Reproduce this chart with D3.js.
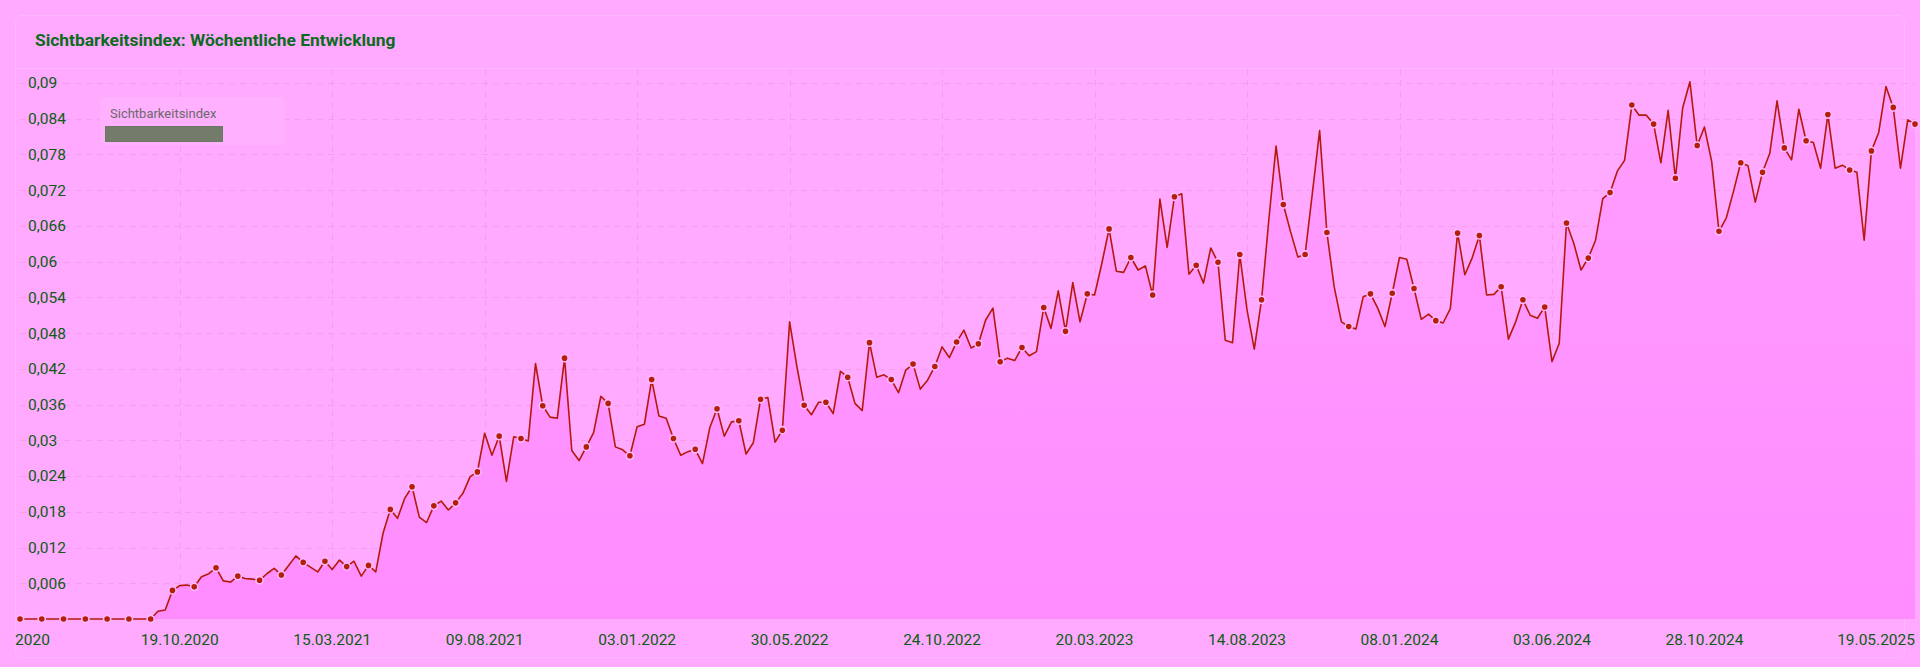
<!DOCTYPE html>
<html lang="de">
<head>
    <meta charset="utf-8">
    <title>Sichtbarkeitsindex</title>
    <script type="text/javascript" src="https://cdn.jsdelivr.net/npm/d3@7/dist/d3.min.js"></script>
    <style>
        html, body { margin: 0; padding: 0; background: #ffa9ff; overflow: hidden; }
        svg { display: block; font-family: Roboto, "Noto Sans", sans-serif; }
    </style>
</head>
<body>
<script type="text/javascript">

    // weekly values, first week 18.05.2020
    var firstWeek = "18.05.2020";
    var values = [
        0, 0, 0, 0, 0, 0, 0, 0, 0, 0, 0, 0, 0, 0, 0, 0, 0, 0, 0, 0.0013,
        0.0015, 0.0048, 0.0056, 0.0057, 0.0054, 0.0071, 0.0076, 0.0086, 0.0064, 0.0062,
        0.0072, 0.0068, 0.0067, 0.0065, 0.0076, 0.0085, 0.0074, 0.0090, 0.0106, 0.0095,
        0.0087, 0.0079, 0.0097, 0.0083, 0.0099, 0.0088, 0.0097, 0.0072, 0.0090, 0.0079,
        0.0144, 0.0184, 0.0169, 0.0203, 0.0222, 0.0171, 0.0162, 0.0190, 0.0198, 0.0183,
        0.0195, 0.0211, 0.0239, 0.0247, 0.0312, 0.0275, 0.0307, 0.0231, 0.0306, 0.0303,
        0.0299, 0.0429, 0.0358, 0.0339, 0.0337, 0.0438, 0.0283, 0.0266, 0.0289, 0.0313,
        0.0374, 0.0362, 0.0289, 0.0284, 0.0274, 0.0323, 0.0327, 0.0402, 0.0341, 0.0337,
        0.0303, 0.0275, 0.0281, 0.0285, 0.0261, 0.0321, 0.0353, 0.0307, 0.0331, 0.0333,
        0.0277, 0.0296, 0.0369, 0.0372, 0.0297, 0.0317, 0.0499, 0.0424, 0.0359, 0.0343,
        0.0364, 0.0364, 0.0345, 0.0416, 0.0406, 0.0362, 0.0350, 0.0464, 0.0406, 0.0410,
        0.0402, 0.0380, 0.0418, 0.0428, 0.0386, 0.0401, 0.0424, 0.0457, 0.0439, 0.0465,
        0.0485, 0.0455, 0.0462, 0.0502, 0.0522, 0.0432, 0.0438, 0.0434, 0.0456, 0.0442,
        0.0449, 0.0523, 0.0488, 0.0551, 0.0483, 0.0565, 0.0499, 0.0546, 0.0544, 0.0597,
        0.0655, 0.0584, 0.0582, 0.0607, 0.0586, 0.0593, 0.0544, 0.0705, 0.0624, 0.0709,
        0.0714, 0.0579, 0.0594, 0.0564, 0.0623, 0.0599, 0.0468, 0.0464, 0.0612, 0.0519,
        0.0453, 0.0536, 0.0670, 0.0794, 0.0696, 0.0650, 0.0608, 0.0612, 0.0715, 0.0820,
        0.0649, 0.0558, 0.0499, 0.0491, 0.0487, 0.0541, 0.0546, 0.0522, 0.0491, 0.0547,
        0.0607, 0.0604, 0.0555, 0.0503, 0.0512, 0.0501, 0.0497, 0.0521, 0.0648, 0.0578,
        0.0606, 0.0644, 0.0544, 0.0545, 0.0558, 0.0470, 0.0499, 0.0536, 0.0510, 0.0505,
        0.0524, 0.0432, 0.0463, 0.0665, 0.0631, 0.0586, 0.0606, 0.0636, 0.0706, 0.0716,
        0.0752, 0.0770, 0.0863, 0.0846, 0.0846, 0.0831, 0.0766, 0.0854, 0.0740, 0.0858,
        0.0902, 0.0795, 0.0826, 0.0768, 0.0651, 0.0673, 0.0718, 0.0766, 0.0761, 0.0700,
        0.0750, 0.0782, 0.0870, 0.0791, 0.0771, 0.0856, 0.0803, 0.0800, 0.0757, 0.0847,
        0.0757, 0.0762, 0.0754, 0.0750, 0.0636, 0.0786, 0.0817, 0.0894, 0.0859, 0.0757,
        0.0838, 0.0831
    ];

    var tickDates = ["25.05.2020", "19.10.2020", "15.03.2021", "09.08.2021", "03.01.2022", "30.05.2022",
        "24.10.2022", "20.03.2023", "14.08.2023", "08.01.2024", "03.06.2024", "28.10.2024", "19.05.2025"];
    var tickLabels = ["2020", "19.10.2020", "15.03.2021", "09.08.2021", "03.01.2022", "30.05.2022",
        "24.10.2022", "20.03.2023", "14.08.2023", "08.01.2024", "03.06.2024", "28.10.2024", "19.05.2025"];
    var yTicks = [0.006, 0.012, 0.018, 0.024, 0.03, 0.036, 0.042, 0.048, 0.054, 0.06, 0.066, 0.072, 0.078, 0.084, 0.09];

    var chartTitle = "Sichtbarkeitsindex: Wöchentliche Entwicklung";
    var seriesName = "Sichtbarkeitsindex";

    var W = 1920, H = 667;
    var plotLeft = 20, plotRight = 1915, plotTop = 83, plotBottom = 619;

    var parseDate = d3.timeParse("%d.%m.%Y");
    var start = parseDate(firstWeek);

    var data = values.map(function (v, i) {
        return {date: d3.timeDay.offset(start, i * 7), value: v, i: i};
    });

    var svg = d3.select("body").append("svg")
        .attr("width", W)
        .attr("height", H);

    var xScale = d3.scaleTime()
        .domain([data[0].date, data[data.length - 1].date])
        .range([plotLeft, plotRight]);

    var yScale = d3.scaleLinear()
        .domain([0, 0.09])
        .range([plotBottom, plotTop]);

    var commaFormat = function (d) {
        return String(+d.toFixed(3)).replace(".", ",");
    };

    //card
    svg.append("rect")
        .attr("x", 15.5)
        .attr("y", 15.5)
        .attr("width", W - 31)
        .attr("height", H - 25)
        .attr("rx", 6)
        .attr("fill", "#ffaaff")
        .attr("stroke", "#ffb6ff")
        .attr("stroke-width", 1);

    svg.append("line")
        .attr("x1", 16).attr("x2", W - 16)
        .attr("y1", 68.5).attr("y2", 68.5)
        .attr("stroke", "#ffb6ff");

    //title
    svg.append("text")
        .attr("x", 35)
        .attr("y", 46)
        .attr("fill", "#0b6a1d")
        .style("font-size", "17.4px")
        .style("font-weight", "bold")
        .text(chartTitle);

    //gradient for the area
    var grad = svg.append("defs").append("linearGradient")
        .attr("id", "areaGrad")
        .attr("gradientUnits", "userSpaceOnUse")
        .attr("x1", 0).attr("x2", 0)
        .attr("y1", yScale(0.09)).attr("y2", yScale(0));
    grad.append("stop").attr("offset", "0%").attr("stop-color", "#ff9dff");
    grad.append("stop").attr("offset", "100%").attr("stop-color", "#ff8cff");

    //horizontal grid
    svg.append("g")
        .selectAll("line")
        .data(yTicks)
        .enter()
        .append("line")
        .attr("x1", plotLeft)
        .attr("x2", plotRight)
        .attr("y1", function (d) { return Math.round(yScale(d)) + 0.5; })
        .attr("y2", function (d) { return Math.round(yScale(d)) + 0.5; })
        .attr("stroke", "#f59cf2")
        .attr("stroke-dasharray", "6,5");

    //vertical grid
    svg.append("g")
        .selectAll("line")
        .data(tickDates.slice(1, tickDates.length - 1))
        .enter()
        .append("line")
        .attr("x1", function (d) { return Math.round(xScale(parseDate(d))) + 0.5; })
        .attr("x2", function (d) { return Math.round(xScale(parseDate(d))) + 0.5; })
        .attr("y1", 69)
        .attr("y2", plotBottom)
        .attr("stroke", "#f59cf2")
        .attr("stroke-dasharray", "6,5");

    //area + line
    var area = d3.area()
        .x(function (d) { return xScale(d.date); })
        .y0(yScale(0))
        .y1(function (d) { return yScale(d.value); });

    var line = d3.line()
        .x(function (d) { return xScale(d.date); })
        .y(function (d) { return yScale(d.value); });

    svg.append("path")
        .datum(data)
        .attr("d", area)
        .attr("fill", "url(#areaGrad)");

    svg.append("path")
        .datum(data)
        .attr("d", line)
        .attr("fill", "none")
        .attr("stroke", "#b5190c")
        .attr("stroke-width", 1.6)
        .attr("stroke-linejoin", "round");

    //dots on every third week
    svg.append("g")
        .selectAll("circle")
        .data(data.filter(function (d) { return d.i % 3 === 0; }))
        .enter()
        .append("circle")
        .attr("cx", function (d) { return xScale(d.date); })
        .attr("cy", function (d) { return yScale(d.value); })
        .attr("r", 3.6)
        .attr("fill", "#b3200a")
        .attr("stroke", "#ffb8ff")
        .attr("stroke-width", 1.6);

    //y labels
    svg.append("g")
        .selectAll("text")
        .data(yTicks)
        .enter()
        .append("text")
        .attr("x", 28)
        .attr("y", function (d) { return yScale(d); })
        .attr("dy", "0.35em")
        .attr("fill", "#0c5c14")
        .style("font-size", "15.5px")
        .text(commaFormat);

    //x labels, kept inside the card
    var xl = svg.append("g")
        .selectAll("text")
        .data(tickDates)
        .enter()
        .append("text")
        .attr("y", 645)
        .attr("fill", "#0c5c14")
        .style("font-size", "15.5px")
        .text(function (d, i) { return tickLabels[i]; });

    xl.each(function (d) {
        var wText = this.getComputedTextLength();
        var cx = xScale(parseDate(d));
        var x0 = cx - wText / 2;
        if (x0 < 15) x0 = 15;
        if (x0 + wText > plotRight) x0 = plotRight - wText;
        d3.select(this).attr("x", x0);
    });

    //legend
    svg.append("rect")
        .attr("x", 100)
        .attr("y", 97)
        .attr("width", 185)
        .attr("height", 48)
        .attr("rx", 4)
        .attr("fill", "#ffb0ff");

    svg.append("text")
        .attr("x", 110)
        .attr("y", 118)
        .attr("fill", "#6a6a6a")
        .style("font-size", "13px")
        .text(seriesName);

    svg.append("rect")
        .attr("x", 105.5)
        .attr("y", 126.5)
        .attr("width", 117)
        .attr("height", 15)
        .attr("fill", "#737b6b")
        .attr("stroke", "#6a7a62");

</script>
</body>
</html>
